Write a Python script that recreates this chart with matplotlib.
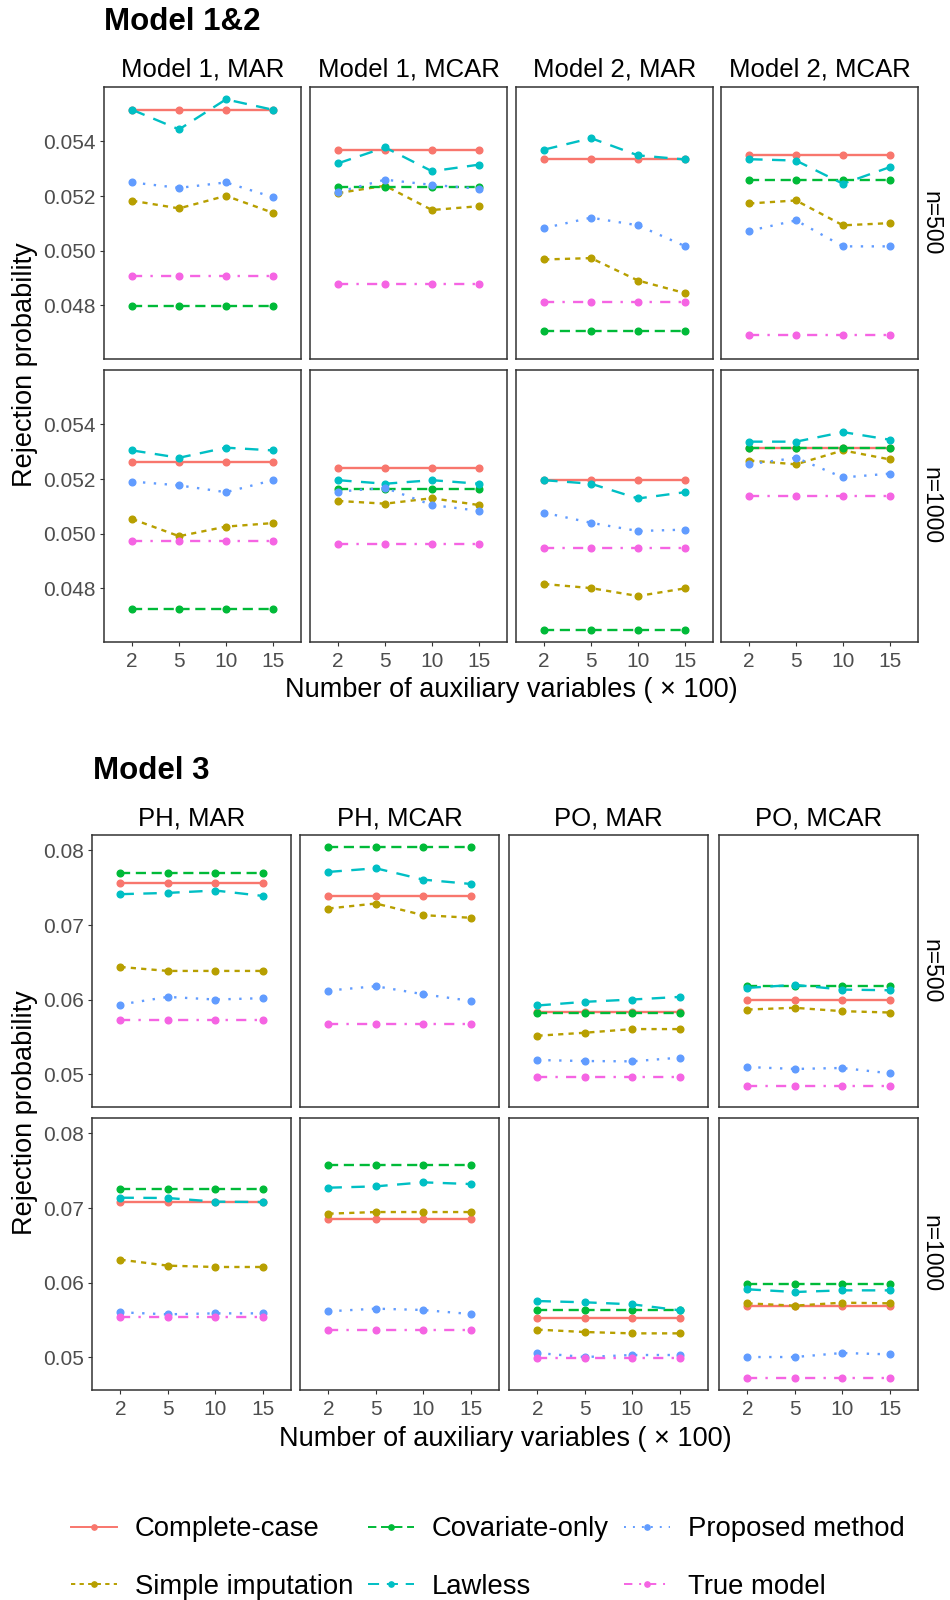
import numpy as np
import matplotlib
matplotlib.use('Agg')
import matplotlib.pyplot as plt
from matplotlib.lines import Line2D

plt.rcParams['font.family'] = ['Liberation Sans', 'DejaVu Sans']

# ---- data ----
x_labels = ['2', '5', '10', '15']
methods = ['Complete-case', 'Simple imputation', 'Covariate-only',
           'Lawless', 'Proposed method', 'True model']
colors = ['#F8766D', '#B79F00', '#00BA38', '#00BFC4', '#619CFF', '#F564E3']

strips_12 = ['Model 1, MAR', 'Model 1, MCAR', 'Model 2, MAR', 'Model 2, MCAR']
strips_3 = ['PH, MAR', 'PH, MCAR', 'PO, MAR', 'PO, MCAR']
row_labels = ['n=500', 'n=1000']

# Model 1&2 : panels in order n=500 (4 panels), then n=1000 (4 panels)
cc_12 = [[0.05516, 0.05516, 0.05516, 0.05516],
         [0.05368, 0.05368, 0.05368, 0.05368],
         [0.05335, 0.05335, 0.05335, 0.05335],
         [0.05350, 0.05350, 0.05350, 0.05350],
         [0.05263, 0.05263, 0.05263, 0.05263],
         [0.05239, 0.05239, 0.05239, 0.05239],
         [0.05196, 0.05196, 0.05196, 0.05196],
         [0.05315, 0.05315, 0.05315, 0.05315]]
simp_12 = [[0.05183, 0.05155, 0.05201, 0.05139],
           [0.05211, 0.05238, 0.05149, 0.05163],
           [0.04968, 0.04973, 0.04891, 0.04845],
           [0.05173, 0.05184, 0.05093, 0.05101],
           [0.05054, 0.04991, 0.05026, 0.05039],
           [0.05120, 0.05110, 0.05130, 0.05105],
           [0.04816, 0.04801, 0.04772, 0.04800],
           [0.05268, 0.05254, 0.05305, 0.05272]]
cov_12 = [[0.04796, 0.04796, 0.04796, 0.04796],
          [0.05232, 0.05232, 0.05232, 0.05232],
          [0.04707, 0.04707, 0.04707, 0.04707],
          [0.05260, 0.05260, 0.05260, 0.05260],
          [0.04724, 0.04724, 0.04724, 0.04724],
          [0.05163, 0.05163, 0.05163, 0.05163],
          [0.04649, 0.04649, 0.04649, 0.04649],
          [0.05312, 0.05312, 0.05312, 0.05312]]
law_12 = [[0.05516, 0.05444, 0.05554, 0.05516],
          [0.05320, 0.05378, 0.05291, 0.05315],
          [0.05370, 0.05412, 0.05349, 0.05334],
          [0.05335, 0.05330, 0.05245, 0.05306],
          [0.05305, 0.05278, 0.05315, 0.05305],
          [0.05196, 0.05183, 0.05196, 0.05183],
          [0.05196, 0.05183, 0.05129, 0.05152],
          [0.05337, 0.05337, 0.05372, 0.05344]]
prop_12 = [[0.05250, 0.05230, 0.05250, 0.05196],
           [0.05215, 0.05260, 0.05241, 0.05227],
           [0.05083, 0.05121, 0.05093, 0.05017],
           [0.05073, 0.05111, 0.05016, 0.05016],
           [0.05191, 0.05177, 0.05152, 0.05196],
           [0.05154, 0.05168, 0.05105, 0.05084],
           [0.05077, 0.05040, 0.05010, 0.05015],
           [0.05254, 0.05278, 0.05206, 0.05220]]
true_12 = [[0.04906, 0.04906, 0.04906, 0.04906],
           [0.04878, 0.04878, 0.04878, 0.04878],
           [0.04812, 0.04812, 0.04812, 0.04812],
           [0.04693, 0.04693, 0.04693, 0.04693],
           [0.04972, 0.04972, 0.04972, 0.04972],
           [0.04963, 0.04963, 0.04963, 0.04963],
           [0.04949, 0.04949, 0.04949, 0.04949],
           [0.05139, 0.05139, 0.05139, 0.05139]]

# Model 3
cc_3 = [[0.07568, 0.07568, 0.07568, 0.07568],
        [0.07395, 0.07395, 0.07395, 0.07395],
        [0.05833, 0.05833, 0.05833, 0.05833],
        [0.06002, 0.06002, 0.06002, 0.06002],
        [0.07080, 0.07080, 0.07080, 0.07080],
        [0.06853, 0.06853, 0.06853, 0.06853],
        [0.05527, 0.05527, 0.05527, 0.05527],
        [0.05692, 0.05692, 0.05692, 0.05692]]
simp_3 = [[0.06438, 0.06385, 0.06385, 0.06385],
          [0.07221, 0.07288, 0.07132, 0.07097],
          [0.05517, 0.05557, 0.05606, 0.05606],
          [0.05868, 0.05891, 0.05846, 0.05828],
          [0.06308, 0.06228, 0.06210, 0.06210],
          [0.06924, 0.06946, 0.06946, 0.06946],
          [0.05371, 0.05339, 0.05321, 0.05321],
          [0.05723, 0.05692, 0.05732, 0.05723]]
cov_3 = [[0.07693, 0.07693, 0.07693, 0.07693],
         [0.08040, 0.08040, 0.08040, 0.08040],
         [0.05815, 0.05815, 0.05815, 0.05815],
         [0.06184, 0.06184, 0.06184, 0.06184],
         [0.07254, 0.07254, 0.07254, 0.07254],
         [0.07571, 0.07571, 0.07571, 0.07571],
         [0.05634, 0.05634, 0.05634, 0.05634],
         [0.05987, 0.05987, 0.05987, 0.05987]]
law_3 = [[0.07413, 0.07430, 0.07462, 0.07390],
         [0.07711, 0.07760, 0.07608, 0.07550],
         [0.05922, 0.05971, 0.06002, 0.06037],
         [0.06158, 0.06198, 0.06135, 0.06126],
         [0.07138, 0.07134, 0.07085, 0.07080],
         [0.07272, 0.07290, 0.07344, 0.07321],
         [0.05754, 0.05737, 0.05710, 0.05630],
         [0.05911, 0.05875, 0.05897, 0.05897]]
prop_3 = [[0.05935, 0.06037, 0.06002, 0.06020],
          [0.06122, 0.06180, 0.06073, 0.05984],
          [0.05192, 0.05178, 0.05174, 0.05223],
          [0.05098, 0.05072, 0.05085, 0.05014],
          [0.05603, 0.05576, 0.05589, 0.05589],
          [0.05616, 0.05652, 0.05634, 0.05580],
          [0.05058, 0.05004, 0.05031, 0.05031],
          [0.05004, 0.05004, 0.05058, 0.05040]]
true_3 = [[0.05726, 0.05726, 0.05726, 0.05726],
          [0.05672, 0.05672, 0.05672, 0.05672],
          [0.04960, 0.04960, 0.04960, 0.04960],
          [0.04840, 0.04840, 0.04840, 0.04840],
          [0.05545, 0.05545, 0.05545, 0.05545],
          [0.05371, 0.05371, 0.05371, 0.05371],
          [0.04991, 0.04991, 0.04991, 0.04991],
          [0.04728, 0.04728, 0.04728, 0.04728]]

yticks_12 = [0.048, 0.050, 0.052, 0.054]
yticks_3 = [0.05, 0.06, 0.07, 0.08]

# ---- style ----
styles = ['-', (0, (2.2, 2.2)), (0, (4.3, 2.4)), (0, (5.7, 4)),
          (0, (1, 3.6)), (0, (4.3, 3.5, 1, 3.5))]
LW, MS = 1.7, 4.8
BORDER = '#333333'

W, H = 950, 1600
fig = plt.figure(figsize=(W / 100, H / 100), dpi=100)


def box(x0, y0, x1, y1):
    # pixel box (top-left origin) -> figure fraction
    return [x0 / W, 1 - y1 / H, (x1 - x0) / W, (y1 - y0) / H]


def block(series, yticks, ylabfmt, lefts, width, rows, strips, strip_y,
          title, title_x, title_y, xlab_y):
    allv = np.concatenate([np.ravel(s) for s in series])
    lo, hi = allv.min(), allv.max()
    pad = (hi - lo) * 0.05
    xs = np.arange(1, 5)
    for r, (top, bot) in enumerate(rows):
        for c, left in enumerate(lefts):
            ax = fig.add_axes(box(left, top, left + width, bot))
            k = r * 4 + c
            for m in range(6):
                ax.plot(xs, series[m][k], color=colors[m], ls=styles[m],
                        lw=LW, marker='o', ms=MS, zorder=2 + m)
            ax.set_xlim(0.4, 4.6)
            ax.set_ylim(lo - pad, hi + pad)
            ax.set_xticks(xs)
            ax.set_yticks(yticks)
            for s in ax.spines.values():
                s.set_color(BORDER)
                s.set_linewidth(1.1)
            ax.tick_params(color=BORDER, labelcolor='#4D4D4D', labelsize=15,
                           length=3, width=0.8)
            ax.tick_params(axis='y', pad=3)
            ax.tick_params(axis='x', pad=4)
            if c == 0:
                ax.set_yticklabels([ylabfmt % v for v in yticks])
            else:
                ax.tick_params(axis='y', left=False, labelleft=False)
            if r == 1:
                ax.set_xticklabels(x_labels)
            else:
                ax.tick_params(axis='x', bottom=False, labelbottom=False)
            if r == 0:
                fig.text((left + width / 2) / W, 1 - strip_y / H, strips[c],
                         ha='center', va='center', fontsize=18.5)
        fig.text(931 / W, 1 - (top + bot) / 2 / H, row_labels[r],
                 rotation=-90, ha='center', va='center', fontsize=16.5)
    fig.text(title_x / W, 1 - title_y / H, title, fontsize=22.5,
             fontweight='bold', ha='left', va='center')
    x_mid = (lefts[0] + lefts[-1] + width) / 2
    fig.text(x_mid / W, 1 - xlab_y / H, 'Number of auxiliary variables ( \u00d7 100)',
             ha='center', va='center', fontsize=19.5)
    fig.text(25 / W, 1 - (rows[0][0] + rows[1][1]) / 2 / H, 'Rejection probability',
             rotation=90, ha='center', va='center', fontsize=19.5)


block([cc_12, simp_12, cov_12, law_12, prop_12, true_12], yticks_12, '%.3f',
      [104, 310, 516, 721], 197, [(87, 359), (370, 642)], strips_12, 70,
      'Model 1&2', 104, 22, 690)
block([cc_3, simp_3, cov_3, law_3, prop_3, true_3], yticks_3, '%.2f',
      [92, 300, 509, 719], 199, [(835, 1107), (1118, 1390)], strips_3, 818.5,
      'Model 3', 93, 771, 1439)

handles = [Line2D([], [], color=colors[m], ls=styles[m], lw=1.4, marker='o',
                  ms=3.8) for m in range(6)]
fig.legend(handles, methods, ncol=3, loc='center left',
           bbox_to_anchor=(71 / W, 1 - 1558 / H), frameon=False, fontsize=19.8,
           borderpad=0, borderaxespad=0, handlelength=1.67, handletextpad=0.65,
           columnspacing=0.55, labelspacing=1.15, numpoints=1)

fig.savefig('out.png', dpi=100)
